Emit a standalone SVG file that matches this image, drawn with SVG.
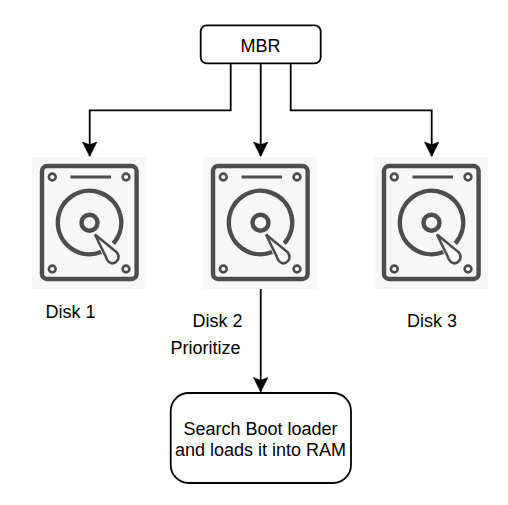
<svg xmlns="http://www.w3.org/2000/svg" xmlns:xlink="http://www.w3.org/1999/xlink" width="508" height="505" viewBox="0 0 508 505">
<style>
text{font-family:"Liberation Sans",Arial,sans-serif;font-size:18px;fill:#000}
.box{fill:#fff;stroke:#000;stroke-width:1.8}
.wire{fill:none;stroke:#000;stroke-width:1.8}
.panel{fill:#f7f7f7}
.ic{fill:none;stroke:#4d4d4d;stroke-width:4.4}
.thin{fill:none;stroke:#4d4d4d;stroke-width:2.6}
</style>
<defs>
<marker id="arrow" markerUnits="userSpaceOnUse" markerWidth="20" markerHeight="20" refX="15" refY="10" orient="auto">
<path d="M1 2.8L15.5 10L1 17.2L3.8 10Z" fill="#000" stroke="#000" stroke-width="0.6"/>
</marker>
<symbol id="disk" width="114" height="132" viewBox="0 0 114 132" overflow="visible">
<rect class="panel" width="114" height="132"/>
<rect class="ic" x="10" y="9" width="94.6" height="113" rx="5"/>
<circle class="thin" cx="20.3" cy="20" r="3.4"/>
<circle class="thin" cx="94" cy="20" r="3.4"/>
<circle class="thin" cx="20.3" cy="112" r="3.4"/>
<circle class="thin" cx="94" cy="112" r="3.4"/>
<path d="M38.5 20H79" fill="none" stroke="#4d4d4d" stroke-width="2.8"/>
<path class="ic" d="M69.2 95A31.7 31.7 0 1 1 81.3 86.5"/>
<circle class="ic" cx="57.5" cy="65.7" r="8"/>
<path class="thin" d="M63 77.5L85 95.5Q88 100.5 85 104Q81.5 108 77 105Q74.5 103 73.5 99Q68 88 63 77.5Z"/>
</symbol>
</defs>
<g id="connectors">
<path class="wire" d="M230.7 63.3V110.3H89.7V156" marker-end="url(#arrow)"/>
<path class="wire" d="M260.7 63.3V156" marker-end="url(#arrow)"/>
<path class="wire" d="M290.7 63.3V110.3H431.7V156" marker-end="url(#arrow)"/>
<path class="wire" d="M260.7 289V391.5" marker-end="url(#arrow)"/>
</g>
<g id="mbr">
<rect class="box" x="200.7" y="25.3" width="120" height="38" rx="6"/>
<text x="260.5" y="52" text-anchor="middle">MBR</text>
</g>
<g id="disk1">
<use href="#disk" xlink:href="#disk" x="32" y="157" width="114" height="132"/>
<text x="45.5" y="317.5">Disk 1</text>
</g>
<g id="disk2">
<use href="#disk" xlink:href="#disk" x="203" y="157" width="114" height="132"/>
<text x="192.5" y="326.5">Disk 2</text>
<text x="170.5" y="353.5">Prioritize</text>
</g>
<g id="disk3">
<use href="#disk" xlink:href="#disk" x="374" y="157" width="114" height="132"/>
<text x="407" y="326.5">Disk 3</text>
</g>
<g id="bootloader">
<rect class="box" x="170.7" y="393" width="180.3" height="90" rx="18"/>
<text x="260.5" y="434.5" text-anchor="middle">Search Boot loader</text>
<text x="260.5" y="455.5" text-anchor="middle">and loads it into RAM</text>
</g>
</svg>
